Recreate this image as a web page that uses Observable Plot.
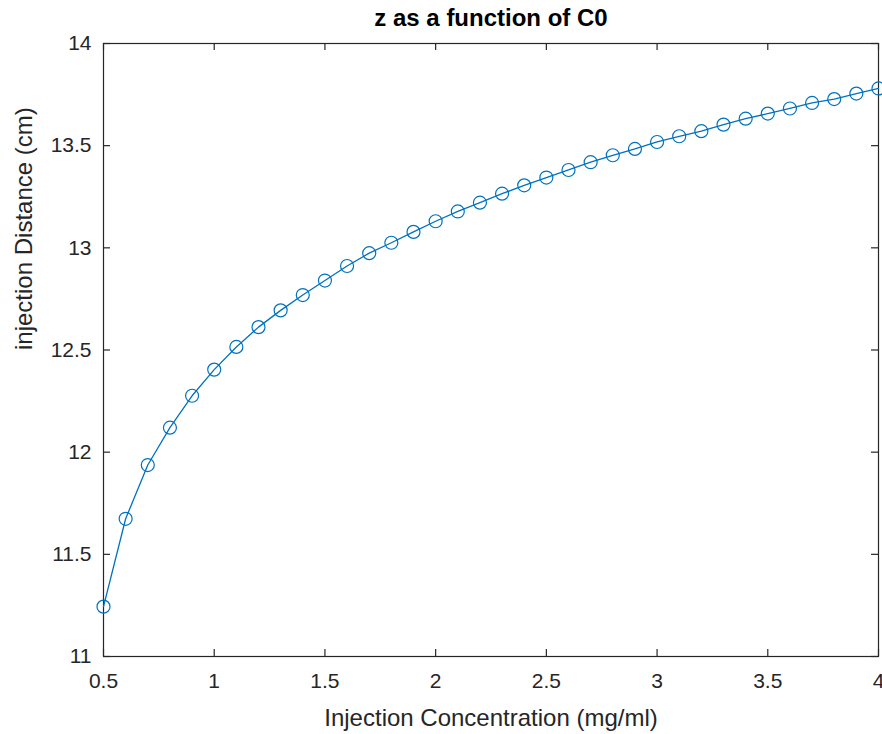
<!DOCTYPE html>
<html>
<head>
<meta charset="utf-8">
<script src="https://cdn.jsdelivr.net/npm/d3@7"></script>
<script src="https://cdn.jsdelivr.net/npm/@observablehq/plot@0.6"></script>
<style>
  html, body { margin: 0; padding: 0; background: #fff; }
  #chart { width: 882px; height: 734px; }
</style>
</head>
<body>
<div id="chart"></div>
<script>
// Data
const concentration = [0.5, 0.6, 0.7, 0.8, 0.9, 1.0, 1.1, 1.2, 1.3, 1.4, 1.5, 1.6, 1.7, 1.8, 1.9, 2.0, 2.1, 2.2, 2.3, 2.4, 2.5, 2.6, 2.7, 2.8, 2.9, 3.0, 3.1, 3.2, 3.3, 3.4, 3.5, 3.6, 3.7, 3.8, 3.9, 4.0];
const distance = [11.244, 11.674, 11.937, 12.12, 12.276, 12.404, 12.515, 12.612, 12.694, 12.769, 12.84, 12.911, 12.974, 13.025, 13.078, 13.13, 13.178, 13.221, 13.265, 13.306, 13.344, 13.381, 13.419, 13.453, 13.484, 13.518, 13.546, 13.571, 13.603, 13.632, 13.657, 13.682, 13.709, 13.728, 13.755, 13.78];
const xTicks = [0.5, 1, 1.5, 2, 2.5, 3, 3.5, 4];
const yTicks = [11, 11.5, 12, 12.5, 13, 13.5, 14];
const titleText = "z as a function of C0";
const xLabelText = "Injection Concentration (mg/ml)";
const yLabelText = "injection Distance (cm)";

const data = concentration.map((c, i) => ({c, z: distance[i]}));
const ink = "#262626";
const blue = "#0072BD";
const fmt = d => String(d);

const W = 882, H = 734, mL = 103, mR = 4, mT = 43, mB = 78;
const tk = 7;
const frameW = W - mL - mR, frameH = H - mT - mB;

const chart = Plot.plot({
  width: W,
  height: H,
  marginLeft: mL,
  marginRight: mR,
  marginTop: mT,
  marginBottom: mB,
  style: {fontFamily: "'Liberation Sans', Arial, Helvetica, sans-serif", fontSize: "21px", color: ink, background: "#fff"},
  x: {domain: [0.5, 4], ticks: xTicks},
  y: {domain: [11, 14], ticks: yTicks},
  marks: [
    // inward ticks on all four sides
    Plot.ruleX(xTicks, {x: d => d, insetTop: frameH - tk, stroke: ink, strokeWidth: 1.2}),
    Plot.ruleX(xTicks, {x: d => d, insetBottom: frameH - tk, stroke: ink, strokeWidth: 1.2}),
    Plot.ruleY(yTicks, {y: d => d, insetRight: frameW - tk, stroke: ink, strokeWidth: 1.2}),
    Plot.ruleY(yTicks, {y: d => d, insetLeft: frameW - tk, stroke: ink, strokeWidth: 1.2}),
    Plot.frame({stroke: ink, strokeWidth: 1.2}),
    // tick labels
    Plot.axisX(xTicks, {anchor: "bottom", tickSize: 0, tickPadding: 17, tickFormat: fmt, label: null, fill: ink}),
    Plot.axisY(yTicks, {anchor: "left", tickSize: 0, tickPadding: 12, tickFormat: fmt, label: null, fill: ink}),
    // data
    Plot.line(data, {x: "c", y: "z", stroke: blue, strokeWidth: 1.3}),
    Plot.dot(data, {x: "c", y: "z", r: 6.5, stroke: blue, strokeWidth: 1.2, fill: "none"}),
    // title and axis labels
    Plot.text([titleText], {frameAnchor: "top", dy: -25, lineAnchor: "middle", fontWeight: "bold", fontSize: 24, fill: "#000", ariaLabel: "title"}),
    Plot.text([xLabelText], {frameAnchor: "bottom", dy: 62, lineAnchor: "middle", fontSize: 24, fill: ink, ariaLabel: "xlabel"}),
    Plot.text([yLabelText], {frameAnchor: "left", dx: -79, rotate: -90, lineAnchor: "middle", fontSize: 24, fill: ink, ariaLabel: "ylabel"})
  ]
});

chart.querySelectorAll('g[aria-label="title"] text').forEach(t => t.setAttribute("letter-spacing", "1.4"));
chart.querySelectorAll('g[aria-label="xlabel"] text').forEach(t => t.setAttribute("letter-spacing", "1.1"));
chart.querySelectorAll('g[aria-label="ylabel"] text').forEach(t => t.setAttribute("letter-spacing", "1.2"));

document.getElementById("chart").appendChild(chart);
</script>
</body>
</html>
